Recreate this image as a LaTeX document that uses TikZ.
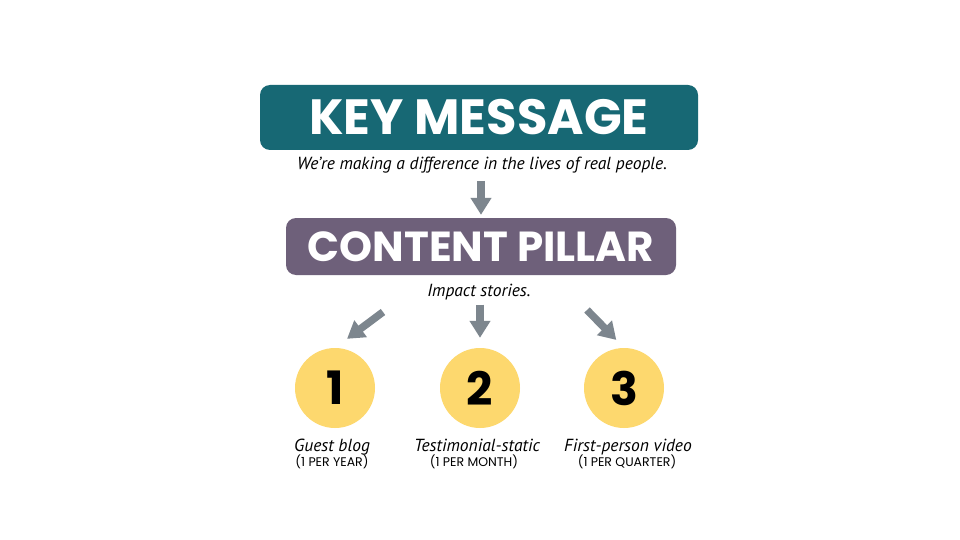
\documentclass[tikz,border=0pt]{standalone}
\usepackage{fontspec}
\setmainfont{Poppins}
\newfontfamily\handfont{PT Sans}
\usetikzlibrary{arrows.meta}

\definecolor{keyteal}{HTML}{176874}
\definecolor{pillarpurple}{HTML}{6E607A}
\definecolor{arrowgrey}{HTML}{7D868E}
\definecolor{circleyellow}{HTML}{FDD86E}

\tikzset{
  titlebox/.style={rounded corners=10pt, text=white, font=\bfseries\fontsize{42}{42}\selectfont},
  hand/.style={inner sep=0pt, font=\handfont\itshape\fontsize{17.5}{17.5}\selectfont},
  bigarrow/.style={arrowgrey, line width=7.5pt, -{Triangle[width=20pt,length=17pt]}},
  num/.style={circle, fill=circleyellow, minimum size=80pt, inner sep=0pt, font=\bfseries\fontsize{46}{46}\selectfont},
  freq/.style={inner sep=0pt, font=\fontsize{12.5}{12.5}\selectfont}
}

\begin{document}
\begin{tikzpicture}[x=1pt, y=-1pt]
  \useasboundingbox[fill=white] (0,0) rectangle (960,540);

  \node[titlebox, fill=keyteal, minimum width=438pt, minimum height=65pt, font=\bfseries\fontsize{49.5}{49.5}\selectfont] (key) at (479,117.5) {KEY MESSAGE};
  \node[hand, anchor=base] (tagline) at (482,170) {We’re making a difference in the lives of real people.};

  \node[titlebox, fill=pillarpurple, minimum width=390pt, minimum height=57pt] (pillar) at (481,246.5) {CONTENT PILLAR};
  \node[hand, anchor=base] (impact) at (479,296) {Impact stories.};

  \node[num] (c1) at (335,388) {1};
  \node[num] (c2) at (480,388) {2};
  \node[num] (c3) at (624,388) {3};

  \node[hand, anchor=base] (l1) at (332,451) {Guest blog};
  \node[hand, anchor=base] (l2) at (477,451) {Testimonial-static};
  \node[hand, anchor=base] (l3) at (628,451) {First-person video};
  \node[freq, anchor=base] (f1) at (332,466) {(1 PER YEAR)};
  \node[freq, anchor=base] (f2) at (474,466) {(1 PER MONTH)};
  \node[freq, anchor=base] (f3) at (627,466) {(1 PER QUARTER)};

  \coordinate (s1) at (383,312);
  \coordinate (s3) at (587,310);

  \draw[bigarrow, shorten <=7pt, shorten >=3pt] (tagline.south -| pillar.north) -- (pillar.north);
  \draw[bigarrow, shorten <=5pt, shorten >=10pt] (impact.south -| c2.north) -- (c2.north);
  \draw[bigarrow, shorten >=15pt] (s1) -- (c1.north);
  \draw[bigarrow, shorten >=11pt] (s3) -- (c3.north);
\end{tikzpicture}
\end{document}
